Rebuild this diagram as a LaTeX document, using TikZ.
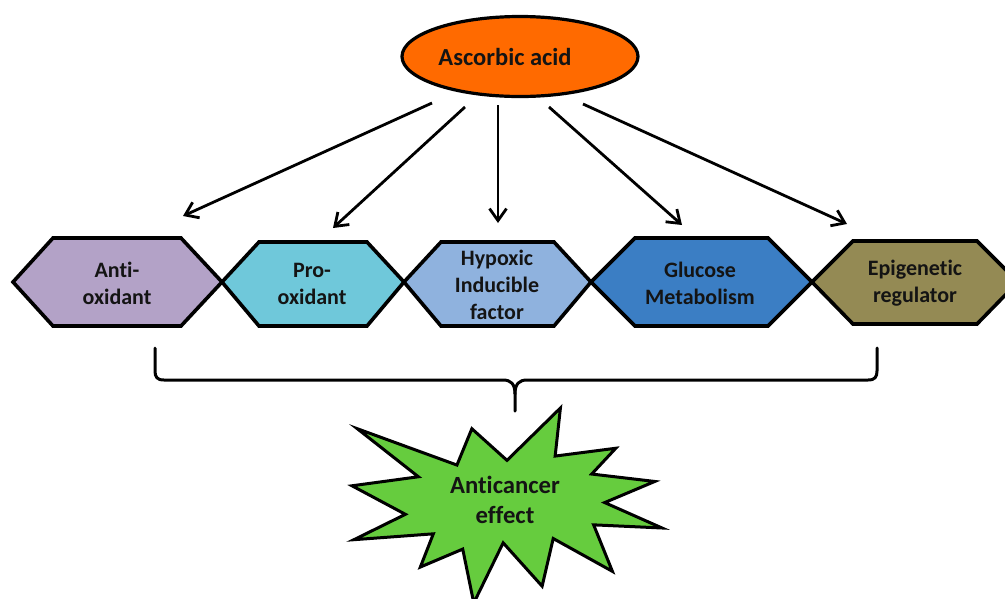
\documentclass[tikz,border=0pt]{standalone}
\usepackage{fontspec}
\setmainfont{Carlito}[Ligatures=NoCommon]
\usetikzlibrary{shapes.geometric,arrows.meta}
\definecolor{ascorange}{HTML}{FF6A00}
\definecolor{antipurple}{HTML}{B3A2C7}
\definecolor{procyan}{HTML}{6FC8DA}
\definecolor{hypblue}{HTML}{8FB2DE}
\definecolor{glublue}{HTML}{3B7EC4}
\definecolor{epiolive}{HTML}{948A54}
\definecolor{stargreen}{HTML}{66CC3E}
\definecolor{inktext}{HTML}{141414}
\begin{document}
\begin{tikzpicture}[x=1pt,y=-1pt,
  hexbox/.style={draw=black,line width=3.6pt,line join=miter},
  hextext/.style={font=\fontsize{22}{27}\selectfont\bfseries,align=center,text=inktext,inner sep=0pt},
  bigtext/.style={font=\fontsize{24.5}{30}\selectfont\bfseries,align=center,text=inktext,inner sep=0pt},
  arr/.style={line width=2.8pt,-{Straight Barb[length=12pt,width=17pt]}},
  bracestyle/.style={line width=3pt,line cap=round,line join=round}]
\useasboundingbox (0,0) rectangle (1005,598);
\fill[white] (0,0) rectangle (1005,598);

% ellipse
\node[ellipse,draw=black,line width=3.2pt,fill=ascorange,minimum width=236pt,minimum height=80pt,inner sep=0pt] (asc) at (520,56.5) {};
\node[bigtext] (asclabel) at (505,57) {Ascorbic acid};

% hexagons
\filldraw[hexbox,fill=antipurple] (13,282) -- (53,238) -- (181,238) -- (222,282) -- (181,326) -- (53,326) -- cycle;
\filldraw[hexbox,fill=procyan] (222,282) -- (259,242) -- (367,242) -- (404,282) -- (367,326) -- (259,326) -- cycle;
\filldraw[hexbox,fill=hypblue] (404,282) -- (441,242) -- (554,242) -- (591,282) -- (554,326) -- (441,326) -- cycle;
\filldraw[hexbox,fill=glublue] (591,282) -- (635,238) -- (768,238) -- (812,282) -- (768,326) -- (635,326) -- cycle;
\filldraw[hexbox,fill=epiolive] (812,282) -- (853,241) -- (977,241) -- (1018,282) -- (977,324) -- (853,324) -- cycle;

\node[hextext] (anti) at (117,283.5) {Anti-\\oxidant};
\node[hextext] (pro) at (312,283.5) {Pro-\\oxidant};
\node[hextext] (hyp) at (497,285) {Hypoxic\\Inducible\\factor};
\node[hextext] (glu) at (700,283) {Glucose\\Metabolism};
\node[hextext] (epi) at (915,283) {Epigenetic\\regulator};

% arrows
\coordinate (s1) at (432,103);
\coordinate (s2) at (465,107);
\coordinate (s3) at (498,105);
\coordinate (s4) at (549,107);
\coordinate (s5) at (583,104);
\coordinate (t1) at (183,216);
\coordinate (t2) at (333,228);
\coordinate (t3) at (498,223);
\coordinate (t4) at (682,225);
\coordinate (t5) at (847,224);
\draw[arr] (s1) -- (t1);
\draw[arr] (s2) -- (t2);
\draw[arr] (s3) -- (t3);
\draw[arr] (s4) -- (t4);
\draw[arr] (s5) -- (t5);

% brace
\coordinate (bl) at (155,348);
\coordinate (br) at (877,348);
\coordinate (btip) at (515,411);
\draw[bracestyle] (bl) -- (155,371) .. controls (155,377) and (157,380) .. (164,380)
  -- (503,380) .. controls (511,380) and (515,384) .. (515,394) -- (btip);
\draw[bracestyle] (br) -- (877,371) .. controls (877,377) and (875,380) .. (868,380)
  -- (527,380) .. controls (519,380) and (515,384) .. (515,394);

% star (explosion)
\begin{scope}[shift={(352,408)},x=1.4352pt,y=-0.9028pt]
\filldraw[fill=stargreen,draw=black,line width=3pt,line join=miter]
 (108,58) -- (145.22,0) -- (141.55,53.25) -- (183.80,44.57) -- (167.02,73.15) -- (210.97,81.37)
 -- (176.07,104.75) -- (216,132.90) -- (168.37,129.42) -- (181.45,180.95) -- (140.20,144.57)
 -- (132.47,197.37) -- (105.32,149.35) -- (84.85,216) -- (77.15,156.27) -- (47.62,176.17)
 -- (56.67,139.37) -- (1.35,145.87) -- (37.22,117.75) -- (0,86.15) -- (46.27,76.17)
 -- (3.70,22.95) -- (73.12,63.20) -- (83.52,22.95) -- cycle;
\end{scope}
\node[bigtext,font=\fontsize{24.7}{30}\selectfont\bfseries] (anticancer) at (505,500) {Anticancer\\effect};
\end{tikzpicture}
\end{document}
